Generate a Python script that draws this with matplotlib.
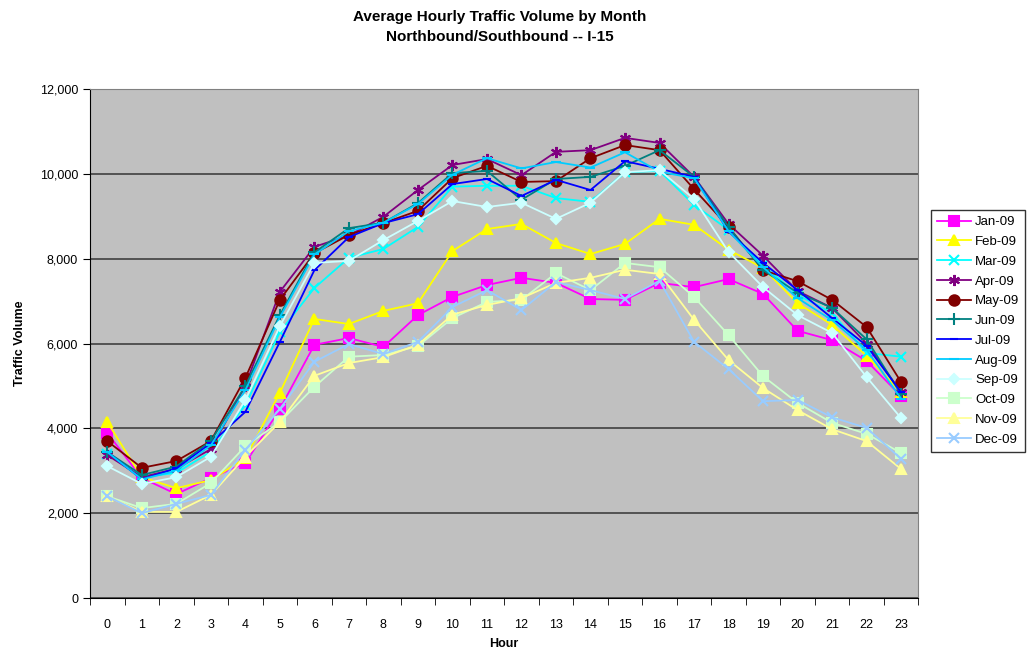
import matplotlib.pyplot as plt
from matplotlib.ticker import FuncFormatter, MultipleLocator

plt.rcParams['font.family'] = ['Liberation Sans', 'DejaVu Sans']

hours = list(range(24))
months = ['Jan-09', 'Feb-09', 'Mar-09', 'Apr-09', 'May-09', 'Jun-09',
          'Jul-09', 'Aug-09', 'Sep-09', 'Oct-09', 'Nov-09', 'Dec-09']

# hourly averages
jan = [3890, 2830, 2450, 2830, 3180, 4460, 5970, 6130, 5920, 6670, 7100, 7380,
       7550, 7430, 7050, 7030, 7430, 7330, 7520, 7170, 6300, 6080, 5590, 4760]
feb = [4150, 2850, 2590, 2780, 3300, 4840, 6580, 6460, 6770, 6950, 8180, 8700,
       8820, 8370, 8110, 8350, 8940, 8800, 8210, 7780, 6950, 6440, 5710, 4850]
mar = [3400, 2850, 2950, 3450, 4550, 6270, 7310, 8020, 8230, 8750, 9700, 9720,
       9720, 9430, 9340, 10040, 10070, 9270, 8680, 7850, 7150, 6720, 5780, 5690]
apr = [3370, 2850, 3050, 3510, 5000, 7220, 8280, 8550, 8990, 9620, 10210, 10350,
       9970, 10520, 10560, 10850, 10730, 9930, 8820, 8070, 7240, 6840, 6000, 4850]
may = [3700, 3070, 3230, 3700, 5190, 7030, 8130, 8560, 8840, 9130, 9900, 10190,
       9810, 9830, 10370, 10680, 10560, 9640, 8750, 7730, 7470, 7030, 6390, 5090]
jun = [3440, 2900, 3100, 3700, 5000, 6670, 8150, 8720, 8850, 9310, 10020, 10070,
       9390, 9880, 9930, 10190, 10560, 9930, 8750, 7730, 7200, 6840, 6100, 4800]
jul = [3440, 2800, 3060, 3650, 4390, 6040, 7730, 8510, 8840, 9050, 9760, 9880,
       9480, 9860, 9620, 10300, 10120, 9930, 8640, 7900, 7260, 6600, 5950, 4850]
aug = [3440, 2800, 3000, 3600, 4900, 6620, 8100, 8650, 8850, 9290, 9980, 10370,
       10130, 10280, 10150, 10510, 10050, 9900, 8650, 7800, 7070, 6550, 5850, 4700]
sep = [3110, 2690, 2850, 3330, 4670, 6410, 7900, 7950, 8440, 8890, 9360, 9220,
       9320, 8940, 9320, 10040, 10090, 9410, 8160, 7330, 6670, 6250, 5210, 4240]
oct_ = [2400, 2120, 2220, 2710, 3580, 4150, 4980, 5690, 5730, 5940, 6600, 6980,
        7030, 7660, 7260, 7900, 7800, 7100, 6200, 5230, 4600, 4130, 3870, 3420]
nov = [2400, 2030, 2030, 2430, 3330, 4150, 5240, 5540, 5680, 5970, 6680, 6910,
       7070, 7430, 7550, 7740, 7640, 6560, 5610, 4950, 4430, 3980, 3700, 3040]
dec = [2400, 2000, 2220, 2430, 3490, 4460, 5570, 5990, 5750, 6040, 6860, 7260,
       6790, 7450, 7260, 7050, 7480, 6040, 5400, 4640, 4670, 4260, 4010, 3280]

series = [jan, feb, mar, apr, may, jun, jul, aug, sep, oct_, nov, dec]
colors = ['#FF00FF', '#FFFF00', '#00FFFF', '#800080', '#800000', '#008080',
          '#0000FF', '#00CCFF', '#CCFFFF', '#CCFFCC', '#FFFF99', '#99CCFF']
markers = ['s', '^', 'x', (6, 2, 0), 'o', '+', '_', '_', 'D', 's', '^', 'x']
msizes = [6.5, 7.5, 7, 8, 7.5, 8, 6, 7, 5.5, 6.5, 7.5, 7]

fig = plt.figure(figsize=(10.29, 6.55), dpi=100)
ax = fig.add_axes([0.0875, 0.087, 0.805, 0.777])
ax.set_facecolor('#C0C0C0')

for vals, name, c, m, ms in zip(series, months, colors, markers, msizes):
    ax.plot(hours, vals, color=c, marker=m, markersize=ms, linewidth=1.3,
            markeredgewidth=1.5, markeredgecolor=c, label=name)

ax.set_ylim(0, 12000)
ax.set_xlim(-0.5, 23.5)
ax.yaxis.set_major_locator(MultipleLocator(2000))
ax.yaxis.set_major_formatter(FuncFormatter(lambda v, p: f'{int(v):,}'))
ax.set_xticks(hours)
ax.set_xticks([h + 0.5 for h in range(-1, 24)], minor=True)
ax.tick_params(axis='x', which='major', length=0, labelsize=9, pad=15)
ax.tick_params(axis='x', which='minor', length=5, direction='out')
ax.tick_params(axis='y', length=5, direction='out', labelsize=9)
ax.grid(axis='y', color='#404040', linewidth=1.2)
ax.set_axisbelow(True)
for side in ['top', 'right']:
    ax.spines[side].set_color('#808080')
for side in ['left', 'bottom']:
    ax.spines[side].set_color('black')

ax.set_xlabel('Hour', fontsize=9, fontweight='bold', labelpad=5)
ax.set_ylabel('Traffic Volume', fontsize=9, fontweight='bold', labelpad=10)
fig.suptitle('Average Hourly Traffic Volume by Month\nNorthbound/Southbound -- I-15',
             fontsize=11, fontweight='bold', x=0.486, y=0.985, linespacing=1.6)

leg = ax.legend(loc='center left', bbox_to_anchor=(1.015, 0.525), fontsize=9.5,
                frameon=True, fancybox=False, edgecolor='black', borderpad=0.45,
                labelspacing=0.57, handlelength=2.6, handletextpad=0.3,
                borderaxespad=0)
leg.get_frame().set_linewidth(1.0)

fig.savefig('out.png', dpi=100)
